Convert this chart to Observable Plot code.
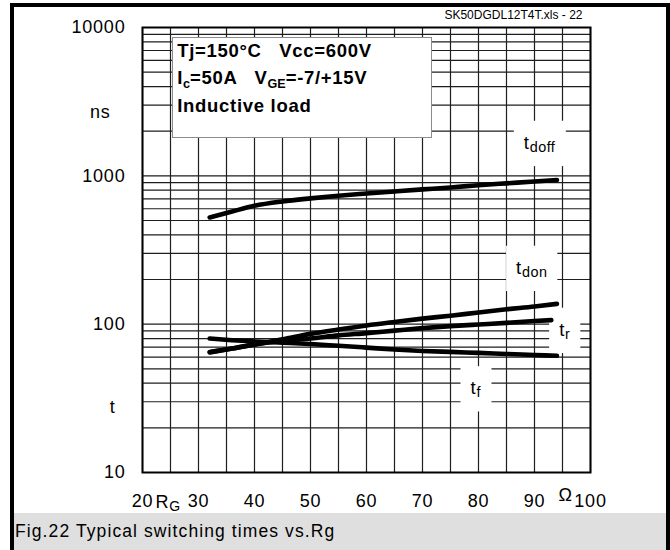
<!DOCTYPE html>
<html>
<head>
<meta charset="utf-8">
<script src="https://cdn.jsdelivr.net/npm/d3@7"></script>
<script src="https://cdn.jsdelivr.net/npm/@observablehq/plot@0.6"></script>
<style>
  html, body { margin: 0; padding: 0; background: #fff; }
  #page { position: relative; width: 670px; height: 550px; overflow: hidden;
          font-family: "Liberation Sans", Arial, Helvetica, sans-serif; color: #000; }
  #border { position: absolute; left: 10px; top: 3px; width: 660px; height: 600px;
            box-sizing: border-box; border: 4px solid #000; border-bottom: none; }
  #chart { position: absolute; left: 0; top: 0; }
  #chart svg text { letter-spacing: 0.8px; white-space: pre; }
  #caption { position: absolute; left: 14px; top: 513px; width: 652px; height: 37px;
             background: #dfdfdf; font-size: 17.5px; letter-spacing: 1.1px; line-height: 37px;
             padding-left: 1px; box-sizing: border-box; }
</style>
</head>
<body>
<div id="page">
  <div id="border"></div>
  <div id="chart"></div>
  <div id="caption">Fig.22 Typical switching times vs.Rg</div>
</div>
<script>
// Gate resistance (Ω) sample points
const rg     = [32, 36, 40, 45, 50, 55, 60, 65, 70, 75, 80, 85, 90, 94];
const rgRise = [32, 36, 40, 45, 50, 55, 60, 65, 70, 75, 80, 85, 90, 93];

// Switching times (ns)
const tdoff = [524, 575, 628, 672, 705, 735, 760, 785, 810, 835, 865, 890, 915, 937];
const tdon  = [65, 68.5, 73, 79, 86, 92, 98, 103.5, 109, 114, 120, 126, 131.5, 137];
const tr    = [64.5, 68.5, 73, 77, 80, 84, 87, 90.5, 94, 97, 99.5, 102, 105, 106.5];
const tf    = [80, 78, 76.5, 75, 73.5, 71.5, 69.5, 67.5, 66, 65, 64, 63, 62, 61.2];

// Curve labels ({…} marks a subscript) and where they sit
const curveNames = ["t{doff}", "t{don}", "t{r}", "t{f}"];
const labelRg    = [90.9, 89.5, 95.4, 79.5];
const labelT     = [1669, 240, 91.6, 37];

// Test conditions
const conditions = ["Tj=150°C   Vcc=600V", "I{c}=50A   V{GE}=-7/+15V", "Inductive load"];

// Axis ticks and names
const xTicks = [20, 30, 40, 50, 60, 70, 80, 90, 100];
const yTicks = [10, 100, 1000, 10000];
const xAxisName = "R{G}";
const xUnit = "Ω";
const yUnit = "ns";
const yAxisName = "t";
const fileTag = "SK50DGDL12T4T.xls - 22";

const rows = [
  {name: "tdoff", x: rg, y: tdoff},
  {name: "tdon", x: rg, y: tdon},
  {name: "tr", x: rgRise, y: tr},
  {name: "tf", x: rg, y: tf}
].flatMap(s => s.x.map((r, i) => ({series: s.name, rg: r, t: s.y[i]})));

const labels = curveNames.map((n, i) => ({name: n, rg: labelRg[i], t: labelT[i]}));

// Log grid: 1..9 per decade; vertical grid every 5 Ω
const yGrid = d3.range(1, 4).flatMap(e => d3.range(1, 10).map(m => m * Math.pow(10, e))).concat([10000]);
const xGrid = d3.range(20, 101, 5);

const condLine = (text, i) => Plot.text([text], {
  frameAnchor: "top-left", textAnchor: "start", lineAnchor: "bottom",
  dx: 34.7, dy: 29.7 + i * 27.2, fontSize: 18.5, fontWeight: "bold"
});

const svg = Plot.plot({
  width: 670,
  height: 513,
  marginLeft: 142,
  marginRight: 80,
  marginTop: 27,
  marginBottom: 41,
  style: {fontFamily: '"Liberation Sans", Arial, Helvetica, sans-serif', fontSize: "18px", color: "#000", background: "transparent", overflow: "visible"},
  x: {domain: [20, 100], ticks: xTicks, tickSize: 0, tickPadding: 22, tickFormat: d => String(d), label: null},
  y: {type: "log", domain: [10, 10000], ticks: yTicks, tickSize: 0, tickPadding: 17, tickFormat: d => String(d), label: null},
  marks: [
    Plot.ruleY(yGrid, {stroke: "#1e1e1e", strokeWidth: 1.2}),
    Plot.ruleX(xGrid, {stroke: "#1e1e1e", strokeWidth: 1.2}),
    Plot.frame({stroke: "#000", strokeWidth: 2}),
    Plot.line(rows, {x: "rg", y: "t", z: "series", stroke: "#000", strokeWidth: 4.6,
                     curve: "monotone-x", strokeLinecap: "round"}),
    Plot.text(labels, {x: "rg", y: "t", text: "name", fontSize: 18.5}),
    ...conditions.map(condLine),
    Plot.text([xAxisName], {x: [22.3], frameAnchor: "bottom", textAnchor: "start", lineAnchor: "bottom", dy: 35}),
    Plot.text([xUnit], {x: [94.3], frameAnchor: "bottom", textAnchor: "start", lineAnchor: "bottom", dy: 28}),
    Plot.text([yUnit], {frameAnchor: "top-left", textAnchor: "end", lineAnchor: "bottom", dx: -32, dy: 90}),
    Plot.text([yAxisName], {frameAnchor: "bottom-left", textAnchor: "end", lineAnchor: "bottom", dx: -27, dy: -60}),
    Plot.text([fileTag], {frameAnchor: "top-right", textAnchor: "end", lineAnchor: "bottom", dx: -8, dy: -8.5, fontSize: 12})
  ]
});

document.getElementById("chart").append(svg);

const NS = "http://www.w3.org/2000/svg";
const allText = Array.from(svg.querySelectorAll("text"));
const labelTexts = allText.filter(t => curveNames.includes(t.textContent));
allText.filter(t => t.textContent === fileTag).forEach(t => t.style.letterSpacing = "0px");
allText.filter(t => conditions.includes(t.textContent)).forEach(t => t.style.letterSpacing = "0.7px");

// Turn "{…}" segments into subscripts
allText.forEach(el => {
  const s = el.textContent;
  if (!s.includes("{")) return;
  const fs = parseFloat(getComputedStyle(el).fontSize) || 18;
  const bold = conditions.includes(s);
  const shift = fs * (bold ? 0.2 : 0.18);
  const parts = s.split(/(\{[^}]*\})/).filter(Boolean);
  el.textContent = "";
  let down = false;
  for (const p of parts) {
    const ts = document.createElementNS(NS, "tspan");
    if (p.startsWith("{")) {
      ts.textContent = p.slice(1, -1);
      ts.setAttribute("font-size", (fs * (bold ? 0.68 : 0.78)).toFixed(2));
      ts.setAttribute("letter-spacing", bold ? "0" : "0.4");
      if (!down) { ts.setAttribute("dy", shift.toFixed(2)); down = true; }
    } else {
      ts.textContent = p;
      if (down) { ts.setAttribute("dy", (-shift).toFixed(2)); down = false; }
    }
    el.appendChild(ts);
  }
});

// White panels over the grid and under the curves: one per curve label,
// plus the bordered panel holding the test conditions
const curvesGroup = svg.querySelector('g[aria-label="line"]') ||
  (svg.querySelector('path[stroke-width="4.6"]') || {}).parentNode;
const panels = document.createElementNS(NS, "g");
const s0 = svg.getBoundingClientRect();
function panel(x, y, w, h, stroke) {
  const rect = document.createElementNS(NS, "rect");
  rect.setAttribute("x", x);
  rect.setAttribute("y", y);
  rect.setAttribute("width", w);
  rect.setAttribute("height", h);
  rect.setAttribute("fill", "#fff");
  if (stroke) { rect.setAttribute("stroke", stroke); rect.setAttribute("stroke-width", 1); }
  panels.appendChild(rect);
}
labelTexts.forEach(t => {
  const r = t.getBoundingClientRect();
  const padX = 10, padY = 11;
  panel(r.left - s0.left - padX, r.top - s0.top - padY, r.width + 2 * padX, r.height + 2 * padY);
});
panel(172.5, 37.5, 259, 100, "#8c8c8c");
if (curvesGroup && curvesGroup.parentNode === svg) svg.insertBefore(panels, curvesGroup);
else if (labelTexts.length) labelTexts[0].parentNode.parentNode.insertBefore(panels, labelTexts[0].parentNode);
</script>
</body>
</html>
